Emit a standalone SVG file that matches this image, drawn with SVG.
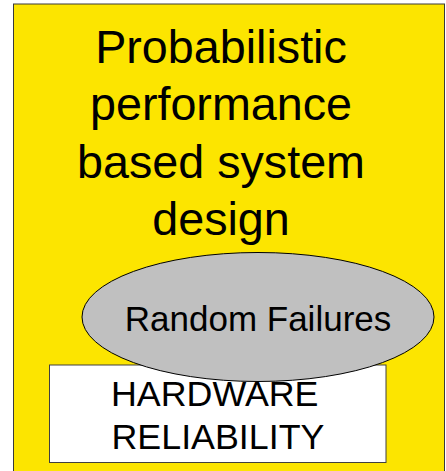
<svg xmlns="http://www.w3.org/2000/svg" width="446" height="471" viewBox="0 0 446 471">
  <style>
    .t { font-family: "Liberation Sans", Arial, sans-serif; fill: #000; }
    .title { font-size: 46.7px; text-anchor: middle; }
    .lbl { font-size: 35px; }
    .hw { font-size: 35.8px; }
  </style>
  <rect width="446" height="471" fill="#ffffff"/>
  <g id="background">
    <rect x="13.5" y="4" width="431" height="480" fill="#fce500" stroke="#3a3a3a" stroke-width="1"/>
    <text class="t title" x="221" y="62.5">Probabilistic</text>
    <text class="t title" x="221" y="120">performance</text>
    <text class="t title" x="221" y="177.5">based system</text>
    <text class="t title" x="221" y="235">design</text>
  </g>
  <g id="hardware">
    <rect x="49.5" y="365" width="336.5" height="97.5" fill="#ffffff" stroke="#404040" stroke-width="1"/>
    <text class="t hw" x="111" y="405.5">HARDWARE</text>
    <text class="t hw" x="111.5" y="449.3">RELIABILITY</text>
  </g>
  <g id="random-failures">
    <ellipse cx="258" cy="317" rx="176" ry="64.5" fill="#c0c0c0" stroke="#000" stroke-width="1"/>
    <text class="t lbl" x="258" y="331" text-anchor="middle">Random Failures</text>
  </g>
  <g id="connectors"/>
</svg>
